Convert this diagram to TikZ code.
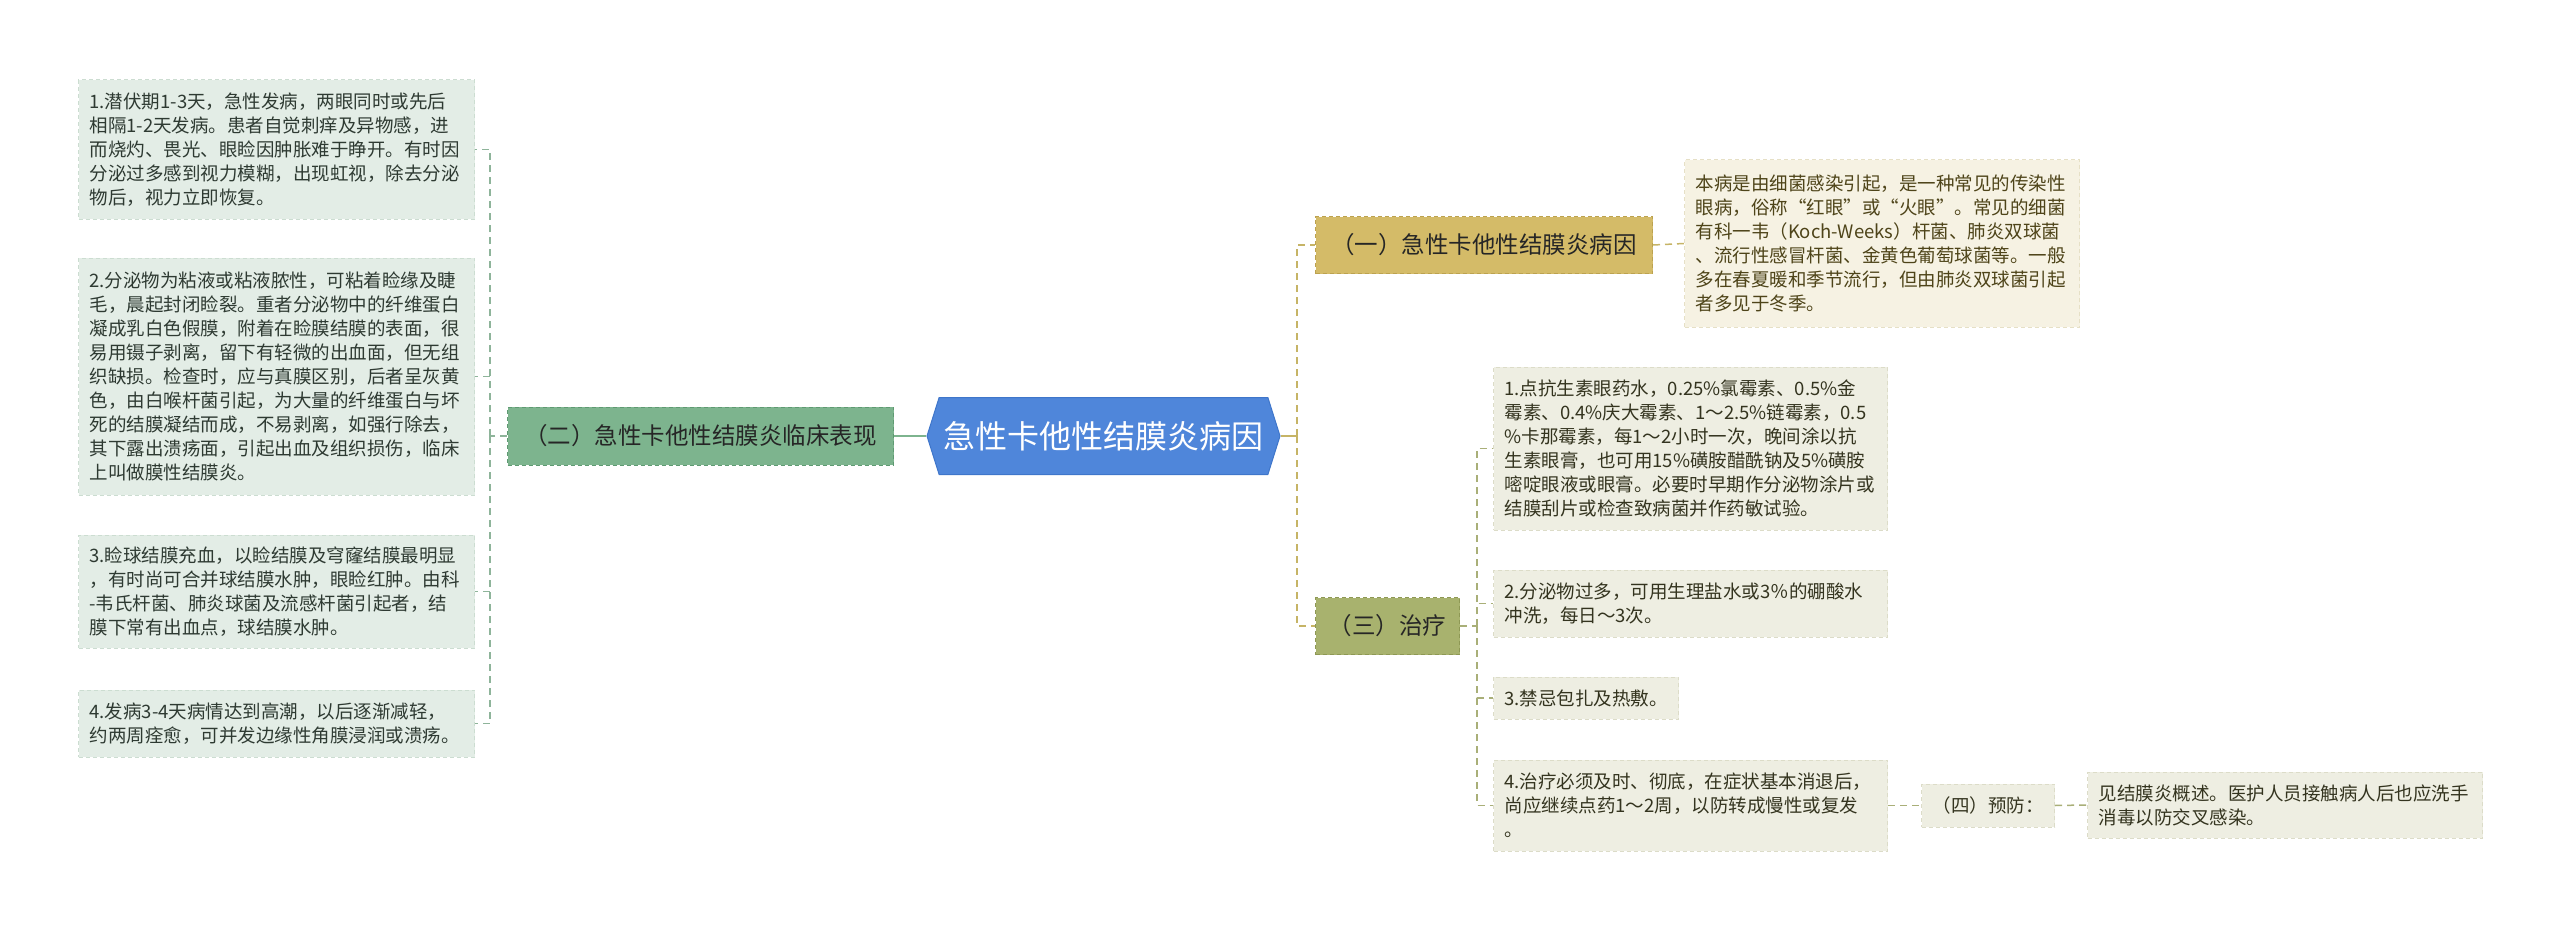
\documentclass[tikz,border=0pt]{standalone}
\usepackage{fontspec}
\setmainfont{Noto Sans CJK SC}
\usetikzlibrary{shapes.symbols}
\definecolor{leafgreen}{HTML}{E3EDE6}
\definecolor{leafgreenline}{HTML}{CCDDD1}
\definecolor{textgreen}{HTML}{2E3A32}
\definecolor{branchgreen}{HTML}{7DB48E}
\definecolor{branchgreenline}{HTML}{5F9A72}
\definecolor{rootblue}{HTML}{4F86DA}
\definecolor{rootline}{HTML}{3F76CA}
\definecolor{branchgold}{HTML}{D4BB68}
\definecolor{branchgoldline}{HTML}{BCA24F}
\definecolor{leafgold}{HTML}{F6F2E3}
\definecolor{leafgoldline}{HTML}{E6E0C6}
\definecolor{textgold}{HTML}{4E4419}
\definecolor{brancholive}{HTML}{A8B26E}
\definecolor{branchoveline}{HTML}{8E9854}
\definecolor{leafolive}{HTML}{EEEEE2}
\definecolor{leafoliveline}{HTML}{DCDCC8}
\definecolor{textolive}{HTML}{34341F}
\definecolor{linegreen}{HTML}{8EB49A}
\definecolor{linegold}{HTML}{C6B466}
\definecolor{lineolive}{HTML}{A9AF78}

\begin{document}
\begin{tikzpicture}[x=1pt, y=-1pt,
  box/.style={anchor=west, align=left, inner xsep=11pt, inner ysep=0pt,
    font=\fontsize{18.5}{24}\selectfont, line width=1pt, dash pattern=on 4pt off 3pt},
  leafL/.style={box, fill=leafgreen, draw=leafgreenline, text=textgreen, text width=374pt},
  leafG/.style={box, fill=leafgold, draw=leafgoldline, text=textgold, text width=373pt},
  leafO/.style={box, fill=leafolive, draw=leafoliveline, text=textolive},
  branch/.style={box, font=\fontsize{23.5}{28}\selectfont, text=black!85, inner xsep=12pt},
  rootnode/.style={signal, signal to=west and east, signal pointer angle=145,
    fill=rootblue, draw=rootline, line width=1pt, text=white, inner sep=0pt,
    font=\fontsize{32}{36}\selectfont, minimum width=353pt, minimum height=77pt},
  lconn/.style={draw=linegreen, line width=1.5pt, dash pattern=on 7pt off 5pt},
  gconn/.style={draw=linegold, line width=1.5pt, dash pattern=on 7pt off 5pt},
  oconn/.style={draw=lineolive, line width=1.5pt, dash pattern=on 7pt off 5pt}]
\useasboundingbox (0,0) rectangle (2560,931);

\node[rootnode] (root) at (1103.5,436) {急性卡他性结膜炎病因};

\node[branch, fill=branchgreen, draw=branchgreenline, minimum width=386pt, minimum height=58pt] (b2) at (507,436) {（二）急性卡他性结膜炎临床表现};
\node[leafL, minimum height=139pt] (l1) at (78,149.5) {1.潜伏期1-3天，急性发病，两眼同时或先后\\相隔1-2天发病。患者自觉刺痒及异物感，进\\而烧灼、畏光、眼睑因肿胀难于睁开。有时因\\分泌过多感到视力模糊，出现虹视，除去分泌\\物后，视力立即恢复。};
\node[leafL, minimum height=237pt] (l2) at (78,376.5) {2.分泌物为粘液或粘液脓性，可粘着睑缘及睫\\毛，晨起封闭睑裂。重者分泌物中的纤维蛋白\\凝成乳白色假膜，附着在睑膜结膜的表面，很\\易用镊子剥离，留下有轻微的出血面，但无组\\织缺损。检查时，应与真膜区别，后者呈灰黄\\色，由白喉杆菌引起，为大量的纤维蛋白与坏\\死的结膜凝结而成，不易剥离，如强行除去，\\其下露出溃疡面，引起出血及组织损伤，临床\\上叫做膜性结膜炎。};
\node[leafL, minimum height=113pt] (l3) at (78,591.5) {3.睑球结膜充血，以睑结膜及穹窿结膜最明显\\，有时尚可合并球结膜水肿，眼睑红肿。由科\\-韦氏杆菌、肺炎球菌及流感杆菌引起者，结\\膜下常有出血点，球结膜水肿。};
\node[leafL, minimum height=67pt] (l4) at (78,723.5) {4.发病3-4天病情达到高潮，以后逐渐减轻，\\约两周痊愈，可并发边缘性角膜浸润或溃疡。};

\node[branch, fill=branchgold, draw=branchgoldline, minimum width=337pt, minimum height=57pt] (b1) at (1315,245) {（一）急性卡他性结膜炎病因};
\node[leafG, minimum height=167pt] (c1) at (1684,243.5) {本病是由细菌感染引起，是一种常见的传染性\\眼病，俗称“红眼”或“火眼”。常见的细菌\\有科一韦（Koch-Weeks）杆菌、肺炎双球菌\\、流行性感冒杆菌、金黄色葡萄球菌等。一般\\多在春夏暖和季节流行，但由肺炎双球菌引起\\者多见于冬季。};

\node[branch, fill=brancholive, draw=branchoveline, minimum width=144pt, minimum height=57pt] (b3) at (1315,626) {（三）治疗};
\node[leafO, text width=372pt, minimum height=163pt] (t1) at (1493,448.5) {1.点抗生素眼药水，0.25\%氯霉素、0.5\%金\\霉素、0.4\%庆大霉素、1～2.5\%链霉素，0.5\\\%卡那霉素，每1～2小时一次，晚间涂以抗\\生素眼膏，也可用15\%磺胺醋酰钠及5\%磺胺\\嘧啶眼液或眼膏。必要时早期作分泌物涂片或\\结膜刮片或检查致病菌并作药敏试验。};
\node[leafO, text width=372pt, minimum height=67pt] (t2) at (1493,603.5) {2.分泌物过多，可用生理盐水或3％的硼酸水\\冲洗，每日～3次。};
\node[leafO, minimum width=185pt, minimum height=42pt] (t3) at (1493,698) {3.禁忌包扎及热敷。};
\node[leafO, text width=372pt, minimum height=91pt] (t4) at (1493,805.5) {4.治疗必须及时、彻底，在症状基本消退后，\\尚应继续点药1～2周，以防转成慢性或复发\\。};
\node[leafO, minimum width=131pt, minimum height=43pt] (b4) at (1921,805.5) {（四）预防：};
\node[leafO, text width=373pt, minimum height=66pt] (p1) at (2087,805) {见结膜炎概述。医护人员接触病人后也应洗手\\消毒以防交叉感染。};

\coordinate (lt) at (490,436);
\draw[lconn] (b2.west) -- (lt);
\foreach \n in {l1,l2,l3,l4}
  \draw[lconn] (lt) |- (\n.east);
\draw[draw=branchgreen, line width=2pt] (b2.east) -- (root.west);

\coordinate (rt) at (1297,436);
\draw[draw=linegold, line width=2pt] (root.east) -- (rt);
\draw[gconn] (rt) |- (b1.west);
\draw[gconn] (rt) |- (b3.west);
\draw[gconn] (b1.east) -- (c1.west);

\coordinate (tt) at (1477,626);
\draw[oconn] (b3.east) -- (tt);
\foreach \n in {t1,t2,t3,t4}
  \draw[oconn] (tt) |- (\n.west);
\draw[oconn] (t4.east) -- (b4.west);
\draw[oconn] (b4.east) -- (p1.west);
\end{tikzpicture}
\end{document}
